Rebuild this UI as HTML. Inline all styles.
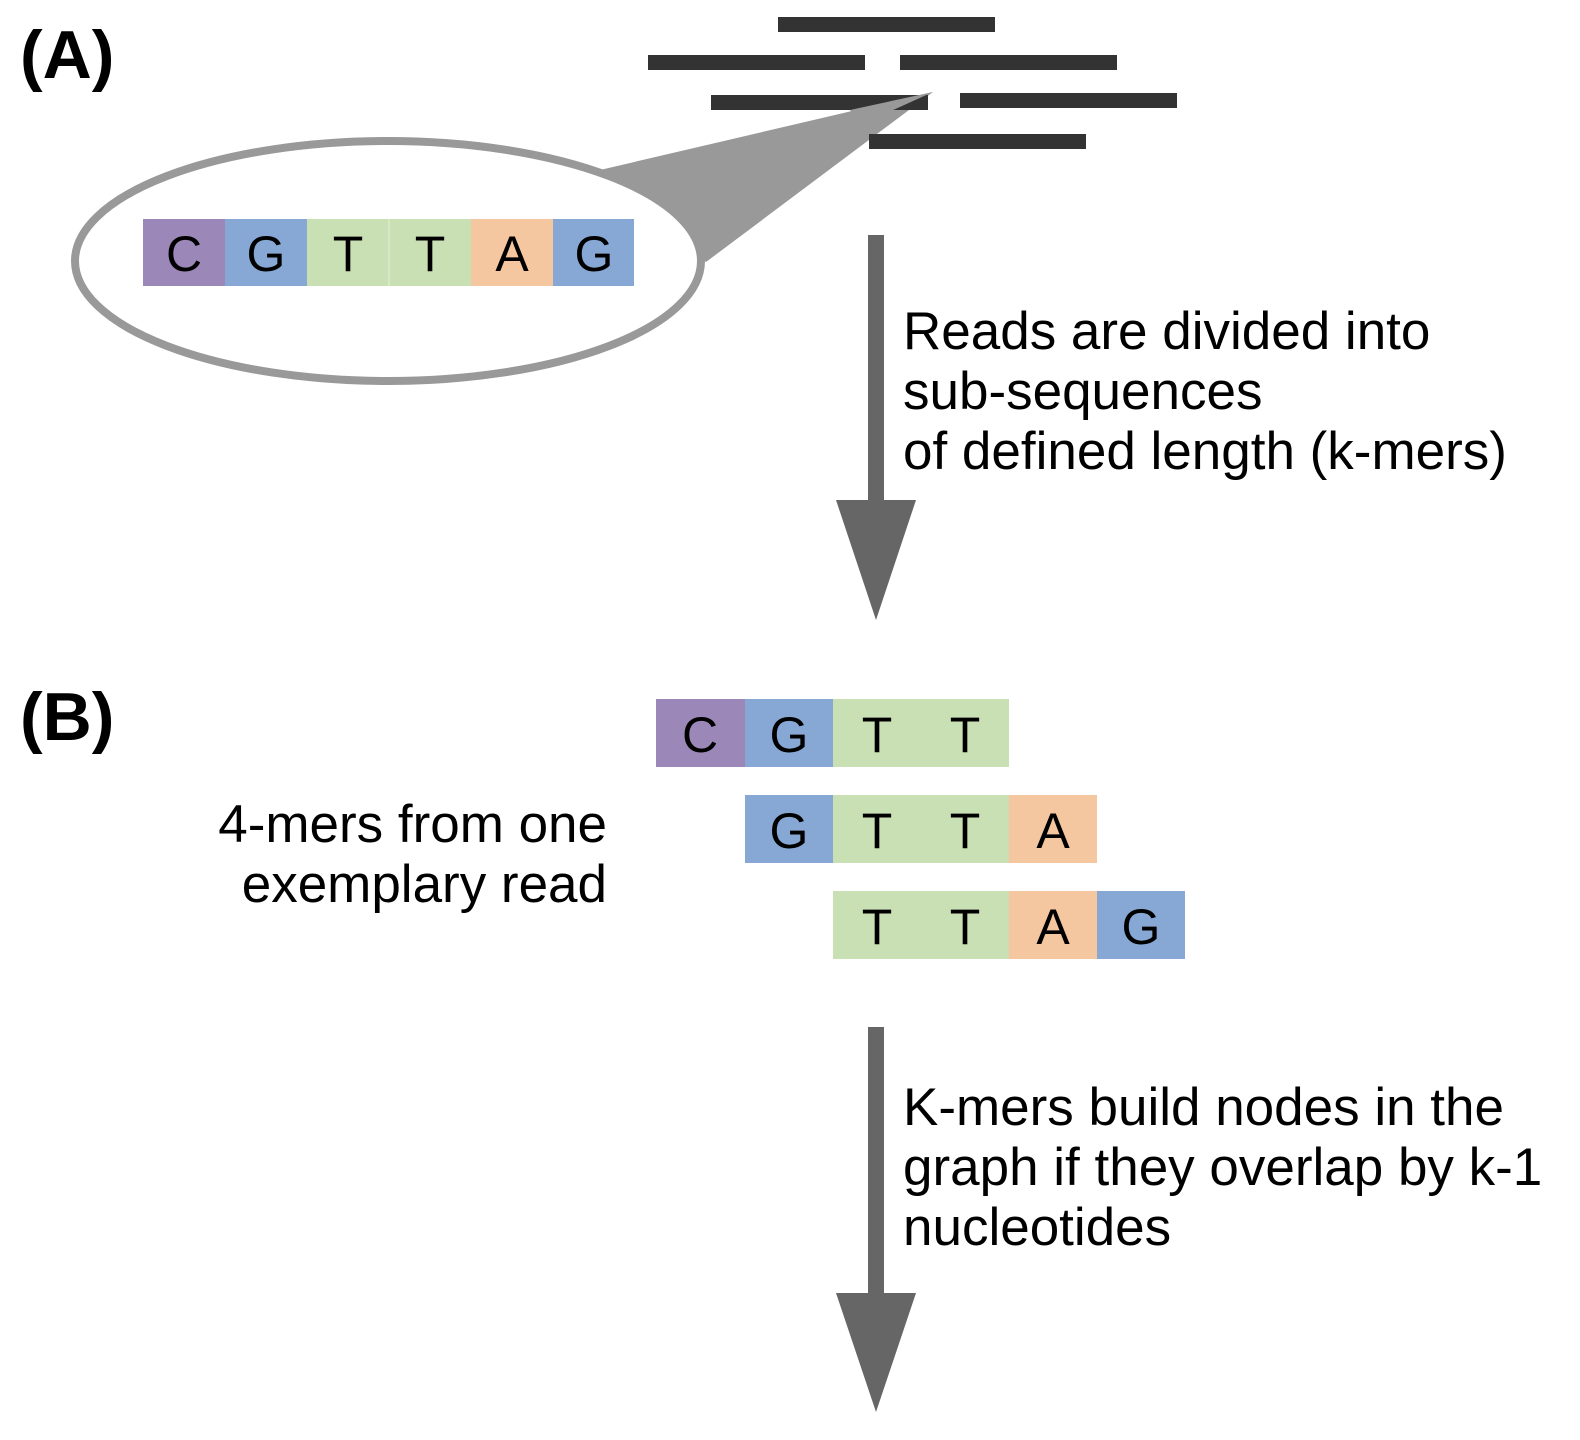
<!DOCTYPE html>
<html><head><meta charset="utf-8"><style>
html,body{margin:0;padding:0;background:#fff}
svg{display:block}
text{font-family:"Liberation Sans",sans-serif}
</style></head><body>
<svg width="1580" height="1440" viewBox="0 0 1580 1440" xmlns="http://www.w3.org/2000/svg">
<rect width="1580" height="1440" fill="#fff"/>
<text x="20" y="78" font-size="68" font-weight="bold">(A)</text>
<text x="20" y="740" font-size="68" font-weight="bold">(B)</text>
<polygon points="600,170 933,92 706,262" fill="#999"/>
<ellipse cx="388" cy="261" rx="313" ry="120" fill="#fff" stroke="#999" stroke-width="8"/>
<g fill="#333">
<rect x="778" y="17" width="217" height="15"/>
<rect x="648" y="55" width="217" height="15"/>
<rect x="900" y="55" width="217" height="15"/>
<rect x="711" y="95" width="217" height="15"/>
<rect x="960" y="93" width="217" height="15"/>
<rect x="869" y="134" width="217" height="15"/>
</g>
<polygon points="850,110 933,92 860,125" fill="#999"/>
<g font-size="50" text-anchor="middle">
<rect x="143" y="219" width="82" height="67" fill="#9b87b8"/>
<rect x="225" y="219" width="82" height="67" fill="#87a8d4"/>
<rect x="307" y="219" width="82" height="67" fill="#c9e0b4"/>
<rect x="389" y="219" width="82" height="67" fill="#c9e0b4"/>
<rect x="471" y="219" width="82" height="67" fill="#f5c7a0"/>
<rect x="553" y="219" width="81" height="67" fill="#87a8d4"/>
<line x1="389" y1="219" x2="389" y2="286" stroke="#e4efd9" stroke-width="1"/>
<text x="184" y="271">C</text><text x="266" y="271">G</text><text x="348" y="271">T</text>
<text x="430" y="271">T</text><text x="512" y="271">A</text><text x="594" y="271">G</text>
</g>
<g fill="#666">
<rect x="868" y="235" width="16" height="268"/>
<polygon points="836,500 916,500 876,620"/>
<rect x="868" y="1027" width="16" height="268"/>
<polygon points="836,1293 916,1293 876,1412"/>
</g>
<g font-size="53">
<text x="903" y="349">Reads are divided into</text>
<text x="903" y="409">sub-sequences</text>
<text x="903" y="469">of defined length (k-mers)</text>
<text x="903" y="1125">K-mers build nodes in the</text>
<text x="903" y="1185">graph if they overlap by k-1</text>
<text x="903" y="1245">nucleotides</text>
<text x="607" y="842" text-anchor="end">4-mers from one</text>
<text x="607" y="902" text-anchor="end">exemplary read</text>
</g>
<g font-size="50" text-anchor="middle">
<rect x="656" y="699" width="89" height="68" fill="#9b87b8"/>
<rect x="745" y="699" width="88" height="68" fill="#87a8d4"/>
<rect x="833" y="699" width="176" height="68" fill="#c9e0b4"/>
<text x="700" y="752">C</text><text x="789" y="752">G</text><text x="877" y="752">T</text><text x="965" y="752">T</text>
<rect x="745" y="795" width="88" height="68" fill="#87a8d4"/>
<rect x="833" y="795" width="176" height="68" fill="#c9e0b4"/>
<rect x="1009" y="795" width="88" height="68" fill="#f5c7a0"/>
<text x="789" y="848">G</text><text x="877" y="848">T</text><text x="965" y="848">T</text><text x="1053" y="848">A</text>
<rect x="833" y="891" width="176" height="68" fill="#c9e0b4"/>
<rect x="1009" y="891" width="88" height="68" fill="#f5c7a0"/>
<rect x="1097" y="891" width="88" height="68" fill="#87a8d4"/>
<text x="877" y="944">T</text><text x="965" y="944">T</text><text x="1053" y="944">A</text><text x="1141" y="944">G</text>
</g>
</svg>
</body></html>
